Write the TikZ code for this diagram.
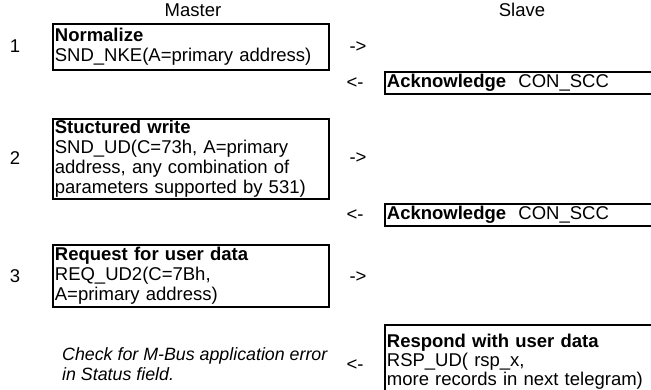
\documentclass[tikz,border=0pt]{standalone}
\usepackage{fontspec}
\setmainfont{Liberation Sans}

\begin{document}
\begin{tikzpicture}[
        x=1pt, y=-1pt,
        every node/.style={font=\fontsize{18.5}{20}\selectfont, inner sep=0pt},
        msgbox/.style={draw, line width=1.8pt, anchor=north west, align=left, inner xsep=2pt},
        head/.style={anchor=center},
        stepnum/.style={anchor=center},
        dirmark/.style={anchor=center}
    ]
        \useasboundingbox (0,0) rectangle (651,390);
        \clip (0,0) rectangle (651,390);
        \node[head] (master) at (193,10) {Master};
        \node[head] (slave) at (522,10) {Slave};
% step 1
        \node[stepnum] (n1) at (15,46) {1};
        \node[msgbox, text width=272pt, minimum height=46pt] (norm) at (52,23)
            {\textbf{Normalize}\\SND\_NKE(A=primary address)};
        \node[dirmark] (tx1) at (358,47) {->};
        \node[dirmark] (rx1) at (355,83) {<-};
        \node[msgbox, text width=300pt, minimum height=22pt] (ack1) at (384,71)
            {\textbf{Acknowledge}\ \ CON\_SCC};
% step 2
        \node[stepnum] (n2) at (15,158) {2};
        \node[msgbox, text width=272pt, minimum height=80pt] (write) at (52,118)
            {\textbf{Stuctured write}\\SND\_UD(C=73h, A=primary\\address, any combination of\\parameters supported by 531)};
        \node[dirmark] (tx2) at (358,158) {->};
        \node[dirmark] (rx2) at (355,215) {<-};
        \node[msgbox, text width=300pt, minimum height=22pt] (ack2) at (384,203)
            {\textbf{Acknowledge}\ \ CON\_SCC};
% step 3
        \node[stepnum] (n3) at (15,276) {3};
        \node[msgbox, text width=272pt, minimum height=62pt] (req) at (52,244)
            {\textbf{Request for user data}\\REQ\_UD2(C=7Bh,\\A=primary address)};
        \node[dirmark] (tx3) at (358,277) {->};
        \node[anchor=west, align=left, font=\fontsize{17.8}{20}\selectfont\itshape] (check) at (62,364)
            {Check for M-Bus application error\\in Status field.};
        \node[dirmark] (rx3) at (355,365) {<-};
        \node[msgbox, text width=300pt, minimum height=74pt, font=\fontsize{18.5}{19}\selectfont] (rsp) at (384,324)
            {\textbf{Respond with user data}\\RSP\_UD( rsp\_x,\\more records in next telegram)};
\end{tikzpicture}
\end{document}
